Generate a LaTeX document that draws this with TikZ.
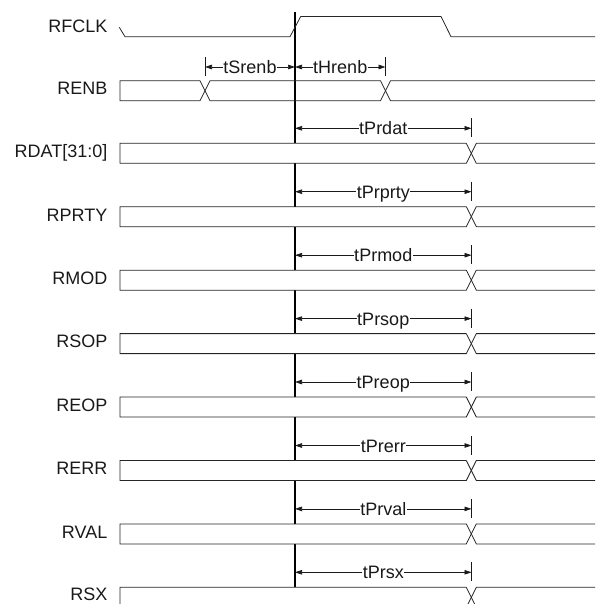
\documentclass[tikz,border=0pt]{standalone}
\usepackage{fontspec}
\setmainfont{Liberation Sans}
\usetikzlibrary{arrows.meta}
\newcommand{\tdrow}[4][0]{%
  \pgfmathsetmacro{\rt}{#2}%
  \pgfmathsetmacro{\rb}{#2+20}%
  \pgfmathsetmacro{\ra}{#2-15}%
  \fill[white] (120,\rt) rectangle (600,\rb);
  \draw[sig] (466.3,\rt) -- (120,\rt) -- (120,\rb) -- (466.3,\rb) -- (476.3,\rt) -- (600,\rt);
  \draw[sig] (466.3,\rt) -- (476.3,\rb) -- (600,\rb);
  \node[lab] (n#4) at (107.5,\rb-5.7-#1) {#3};
  \coordinate (s#4) at (295,\ra);
  \coordinate (e#4) at (471.5,\ra);
  \draw[tickmark] (471.5,\ra-10) -- (471.5,\ra+9);
  \draw[tim] (s#4) -- (e#4) node[midway,tlab,yshift=-6.5pt] (l#4) {#4};
}
\begin{document}
\begin{tikzpicture}[x=1pt,y=-1pt,
  sig/.style={line width=0.8pt, draw=black!85, line join=miter},
  vbar/.style={line width=1.5pt, draw=black},
  tim/.style={line width=0.7pt, draw=black!90, {Triangle[length=7pt,width=4.5pt]}-{Triangle[length=7pt,width=4.5pt]}},
  tickmark/.style={line width=0.9pt, draw=black!90},
  lab/.style={font=\fontsize{18}{20}\selectfont, anchor=base east, inner sep=0pt, text=black!90},
  tlab/.style={font=\fontsize{18}{20}\selectfont, fill=white, inner sep=0.5pt, anchor=base, text=black!90},
]
\useasboundingbox (0,0) rectangle (595,604);
\clip (0,0) rectangle (595,604);
% reference edge
\coordinate (vtop) at (295,12);
\coordinate (vbot) at (295,587.3);
\draw[vbar] (vtop) -- (vbot);
% RFCLK
\node[lab] (nRFCLK) at (107.5,32.3) {RFCLK};
\draw[sig] (119.3,27.3) -- (125,36.7) -- (290,36.7) -- (300.7,16.5) -- (441,16.5) -- (451,36.7) -- (600,36.7);
% RENB
\node[lab] (nRENB) at (107.5,95) {RENB};
\draw[sig] (200,80.7) -- (120,80.7) -- (120,100.7) -- (200,100.7) -- (210,80.7) -- (380.5,80.7) -- (390.5,100.7) -- (600,100.7);
\draw[sig] (200,80.7) -- (210,100.7) -- (380.5,100.7) -- (390.5,80.7) -- (600,80.7);
\coordinate (sS) at (205,67);
\coordinate (eS) at (295,67);
\coordinate (eH) at (385.5,67);
\draw[tickmark] (205,57) -- (205,76);
\draw[tickmark] (385.5,57) -- (385.5,76);
\draw[tim] (sS) -- (eS) node[midway,tlab,yshift=-6.5pt] (lS) {tSrenb};
\draw[tim] (eS) -- (eH) node[midway,tlab,yshift=-6.5pt] (lH) {tHrenb};
% data rows
\tdrow{143.3}{RDAT[31:0]}{tPrdat}
\tdrow{206.7}{RPRTY}{tPrprty}
\tdrow{270.2}{RMOD}{tPrmod}
\tdrow{333.6}{RSOP}{tPrsop}
\tdrow{397.0}{REOP}{tPreop}
\tdrow{460.5}{RERR}{tPrerr}
\tdrow{523.9}{RVAL}{tPrval}
\tdrow[1.5]{587.3}{RSX}{tPrsx}
\end{tikzpicture}
\end{document}
